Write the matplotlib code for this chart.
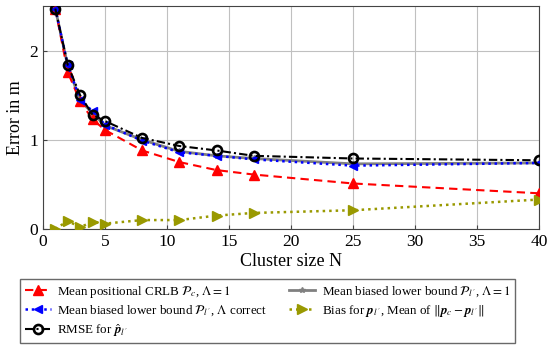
import matplotlib
matplotlib.use("Agg")
import matplotlib.pyplot as plt

N = [1, 2, 3, 4, 5, 8, 11, 14, 17, 25, 40]
crlb = [2.47, 1.76, 1.43, 1.23, 1.11, 0.88, 0.75, 0.66, 0.61, 0.51, 0.40]
lb_lambda1 = [2.47, 1.83, 1.44, 1.30, 1.16, 1.00, 0.87, 0.82, 0.79, 0.73, 0.74]
lb_correct = [2.47, 1.84, 1.45, 1.32, 1.17, 0.99, 0.86, 0.82, 0.78, 0.71, 0.74]
bias = [0.00, 0.09, 0.02, 0.08, 0.06, 0.10, 0.10, 0.15, 0.18, 0.21, 0.33]
rmse = [2.47, 1.84, 1.50, 1.28, 1.21, 1.02, 0.93, 0.88, 0.82, 0.79, 0.77]

labels = [
    r"Mean positional CRLB $\mathcal{P}_c$, $\Lambda = 1$",
    r"Mean biased lower bound $\mathcal{P}_{l'}$, $\Lambda$ correct",
    r"RMSE for $\hat{\mathbfit{p}}_{l'}$",
    r"Mean biased lower bound $\mathcal{P}_{l'}$, $\Lambda = 1$",
    r"Bias for $\mathbfit{p}_{l'}$, Mean of $\|\mathbfit{p}_c - \mathbfit{p}_{l'}\|$",
]

plt.rcParams['font.family'] = ['Liberation Serif', 'DejaVu Serif']
plt.rcParams['mathtext.fontset'] = 'stix'

fig = plt.figure(figsize=(5.5, 3.48), dpi=100)
ax = fig.add_axes([0.078, 0.342, 0.902, 0.641])

olive = '#999900'
h_gray, = ax.plot(N, lb_lambda1, color='#808080', lw=2.0, ls='-', marker='*', ms=4, zorder=2)
h_red, = ax.plot(N, crlb, color='#ff0000', lw=1.5, ls=(0, (4, 2.5)), marker='^', ms=7, zorder=3)
h_blue, = ax.plot(N, lb_correct, color='#0000ff', lw=1.8, ls=(0, (1, 1.5)), marker='<', ms=5.5, zorder=4)
h_olive, = ax.plot(N, bias, color=olive, lw=1.8, ls=(0, (1, 1.6)), marker='>', ms=7, zorder=3)
h_black, = ax.plot(N, rmse, color='black', lw=1.5, ls=(0, (4, 1.5, 1, 1.5)), marker='o', ms=6.5,
                   mfc='none', mew=1.9, zorder=5)

ax.set_xlim(0, 40)
ax.set_ylim(0, 2.5)
ax.set_xticks(range(0, 41, 5))
ax.set_yticks([0, 1, 2])
ax.grid(True, color='#c0c0c0', lw=0.8)
ax.set_axisbelow(True)
ax.tick_params(direction='in', labelsize=12.5, length=3, color='#444444')
for s in ax.spines.values():
    s.set_color('#444444')
ax.set_xlabel('Cluster size N', fontsize=13, labelpad=2)
ax.set_ylabel('Error in m', fontsize=13, labelpad=4)

leg = fig.legend([h_red, h_blue, h_black, h_gray, h_olive], labels, ncol=2,
                 loc='lower left', bbox_to_anchor=(0.0364, 0.014, 0.9, 0.1), mode='expand',
                 borderaxespad=0,
                 fontsize=9.4, frameon=True, fancybox=False, edgecolor='#444444',
                 handlelength=2.0, labelspacing=0.3, borderpad=0.35, columnspacing=1.0,
                 handletextpad=0.5)
leg.get_frame().set_linewidth(1.0)

fig.savefig('out.png', dpi=100)
